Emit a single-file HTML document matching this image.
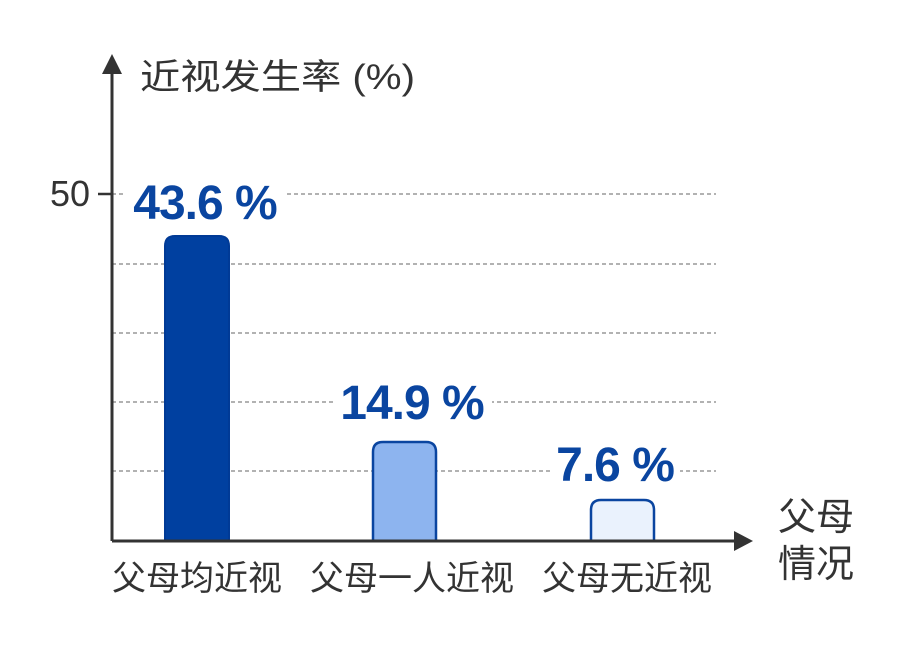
<!DOCTYPE html>
<html><head><meta charset="utf-8"><style>
html,body{margin:0;padding:0;background:#fff;width:908px;height:645px;overflow:hidden}
text{font-family:"Liberation Sans","Noto Sans CJK SC",sans-serif}
</style></head><body>
<svg width="908" height="645" viewBox="0 0 908 645" xmlns="http://www.w3.org/2000/svg">
<g stroke="#666" stroke-width="1" stroke-dasharray="4,3">
<line x1="112" y1="194" x2="716" y2="194"/>
<line x1="112" y1="264" x2="716" y2="264"/>
<line x1="112" y1="333" x2="716" y2="333"/>
<line x1="112" y1="402" x2="716" y2="402"/>
<line x1="112" y1="471" x2="716" y2="471"/>
</g>
<rect x="126" y="172" width="158" height="50" fill="#fff"/>
<rect x="334" y="378" width="158" height="48" fill="#fff"/>
<rect x="550" y="440" width="130" height="48" fill="#fff"/>
<path d="M165,541 V246 Q165,236 175,236 H219 Q229,236 229,246 V541 Z" fill="#0040a0" stroke="#003a96" stroke-width="2"/>
<path d="M373,541 V452 Q373,442 383,442 H426 Q436,442 436,452 V541 Z" fill="#8db4ef" stroke="#0a45a0" stroke-width="2.5"/>
<path d="M591,541 V510 Q591,500 601,500 H644 Q654,500 654,510 V541 Z" fill="#eaf2fd" stroke="#0a45a0" stroke-width="2.5"/>
<line x1="112" y1="541" x2="740" y2="541" stroke="#333" stroke-width="3"/>
<polygon points="734,531 753,541 734,551" fill="#333"/>
<line x1="112" y1="541" x2="112" y2="70" stroke="#333" stroke-width="3"/>
<polygon points="102,74 112,54 122,74" fill="#333"/>
<line x1="98" y1="194" x2="112" y2="194" stroke="#333" stroke-width="2.5"/>
<text x="90" y="206" font-size="36" fill="#333" text-anchor="end">50</text>
<text x="140" y="89" font-size="35" fill="#333" textLength="275" lengthAdjust="spacingAndGlyphs">近视发生率 (%)</text>
<g font-weight="bold" fill="#0a45a0" text-anchor="middle" font-size="48">
<text x="205" y="219" letter-spacing="-1">43.6 %</text>
<text x="412" y="419" letter-spacing="-1">14.9 %</text>
<text x="615" y="481" letter-spacing="-1">7.6 %</text>
</g>
<g font-size="34" fill="#333" text-anchor="middle">
<text x="197" y="590">父母均近视</text>
<text x="412" y="590">父母一人近视</text>
<text x="627" y="590">父母无近视</text>
<text x="816" y="530" font-size="38">父母</text>
<text x="816" y="577" font-size="38">情况</text>
</g>
</svg>
</body></html>
